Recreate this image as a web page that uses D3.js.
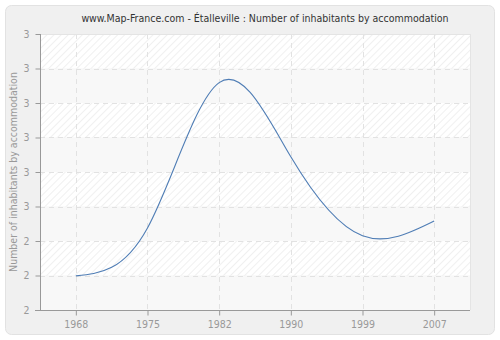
<!DOCTYPE html>
<html lang="en">
<head>
<meta charset="utf-8">
<script src="https://d3js.org/d3.v7.min.js"></script>
<style>
  body { margin: 0; background: #fff; }
  text { font-family: "DejaVu Sans Condensed", "DejaVu Sans", sans-serif; font-stretch: condensed; }
</style>
</head>
<body>
<script>
// data
var years = ["1968", "1975", "1982", "1990", "1999", "2007"];
var values = [2.299, 2.438, 2.859, 2.644, 2.415, 2.458];
var yTicks = [2.2, 2.3, 2.4, 2.5, 2.6, 2.7, 2.8, 2.9, 3.0];

var W = 500, H = 340;
var margin = {top: 34, right: 30, bottom: 30, left: 40};
var width = W - margin.left - margin.right;
var height = H - margin.top - margin.bottom;

var svg = d3.select("body").append("svg").attr("width", W).attr("height", H);

var defs = svg.append("defs");
var pat = defs.append("pattern").attr("id", "hatch").attr("patternUnits", "userSpaceOnUse")
  .attr("width", 5).attr("height", 5).attr("patternTransform", "rotate(45)");
pat.append("rect").attr("width", 5).attr("height", 5).attr("fill", "#ffffff");
pat.append("line").attr("x1", 0).attr("y1", 0).attr("x2", 0).attr("y2", 5)
  .attr("stroke", "#ebebeb").attr("stroke-width", 1.5);

// outer panel
svg.append("rect").attr("x", 5.5).attr("y", 5.5).attr("width", 489).attr("height", 329)
  .attr("rx", 6).attr("fill", "#f0f0f0").attr("stroke", "#e2e2e2");

var x = d3.scalePoint().domain(years).range([0, width]).padding(0.5);
var y = d3.scaleLinear().domain([2.2, 3.0]).range([height, 0]);

var g = svg.append("g").attr("transform", "translate(" + margin.left + "," + margin.top + ")");

// striped bands
var bands = d3.range(yTicks.length - 1);
g.selectAll(".band").data(bands).enter().append("rect")
  .attr("x", 0).attr("width", width)
  .attr("y", function(i) { return y(yTicks[i + 1]); })
  .attr("height", function(i) { return y(yTicks[i]) - y(yTicks[i + 1]); })
  .attr("fill", function(i) { return i % 2 === 0 ? "#f8f8f8" : "url(#hatch)"; });

// grid
g.selectAll(".hgrid").data(yTicks.slice(1)).enter().append("line")
  .attr("x1", 0).attr("x2", width)
  .attr("y1", function(d) { return Math.round(y(d)) + 0.5; })
  .attr("y2", function(d) { return Math.round(y(d)) + 0.5; })
  .attr("stroke", "#e2e2e2").attr("stroke-dasharray", "5,4");
g.selectAll(".vgrid").data(years).enter().append("line")
  .attr("y1", 0).attr("y2", height)
  .attr("x1", function(d) { return Math.round(x(d)) + 0.5; })
  .attr("x2", function(d) { return Math.round(x(d)) + 0.5; })
  .attr("stroke", "#e2e2e2").attr("stroke-dasharray", "5,4");

// right / top frame
g.append("line").attr("x1", width + 0.5).attr("x2", width + 0.5).attr("y1", 0).attr("y2", height)
  .attr("stroke", "#e4e4e4");
g.append("line").attr("x1", 0).attr("x2", width).attr("y1", 0.5).attr("y2", 0.5)
  .attr("stroke", "#e4e4e4");

// axes
var yAxis = d3.axisLeft(y).tickValues(yTicks).tickSize(5).tickPadding(6)
  .tickFormat(function(d) { return Math.round(d); });
var ya = g.append("g").attr("transform", "translate(0.5,0)").call(yAxis);
var xAxis = d3.axisBottom(x).tickSize(5).tickPadding(5);
var xa = g.append("g").attr("transform", "translate(0," + (height + 0.5) + ")").call(xAxis);
xa.select(".domain").attr("d", "M-5,0H" + width);
ya.select(".domain").attr("d", "M0,0V" + height);
svg.selectAll(".domain").attr("stroke", "#999");
svg.selectAll(".tick line").attr("stroke", "#999");
svg.selectAll(".tick text").attr("fill", "#999").style("font-size", "10.5px")
  .style("font-family", "'DejaVu Sans Condensed', 'DejaVu Sans', sans-serif");

// line
var line = d3.line()
  .x(function(d, i) { return x(years[i]); })
  .y(function(d) { return y(d); })
  .curve(d3.curveNatural);
g.append("path").datum(values).attr("d", line)
  .attr("fill", "none").attr("stroke", "#4f7db5").attr("stroke-width", 1.1);

// titles
svg.append("text").attr("x", 265).attr("y", 22).attr("text-anchor", "middle")
  .attr("fill", "#333").style("font-size", "10.5px")
  .text("www.Map-France.com - Étalleville : Number of inhabitants by accommodation");
svg.append("text").attr("transform", "translate(17," + (margin.top + height / 2) + ") rotate(-90)")
  .attr("text-anchor", "middle").attr("fill", "#999").style("font-size", "10.5px")
  .text("Number of inhabitants by accommodation");
</script>
</body>
</html>
